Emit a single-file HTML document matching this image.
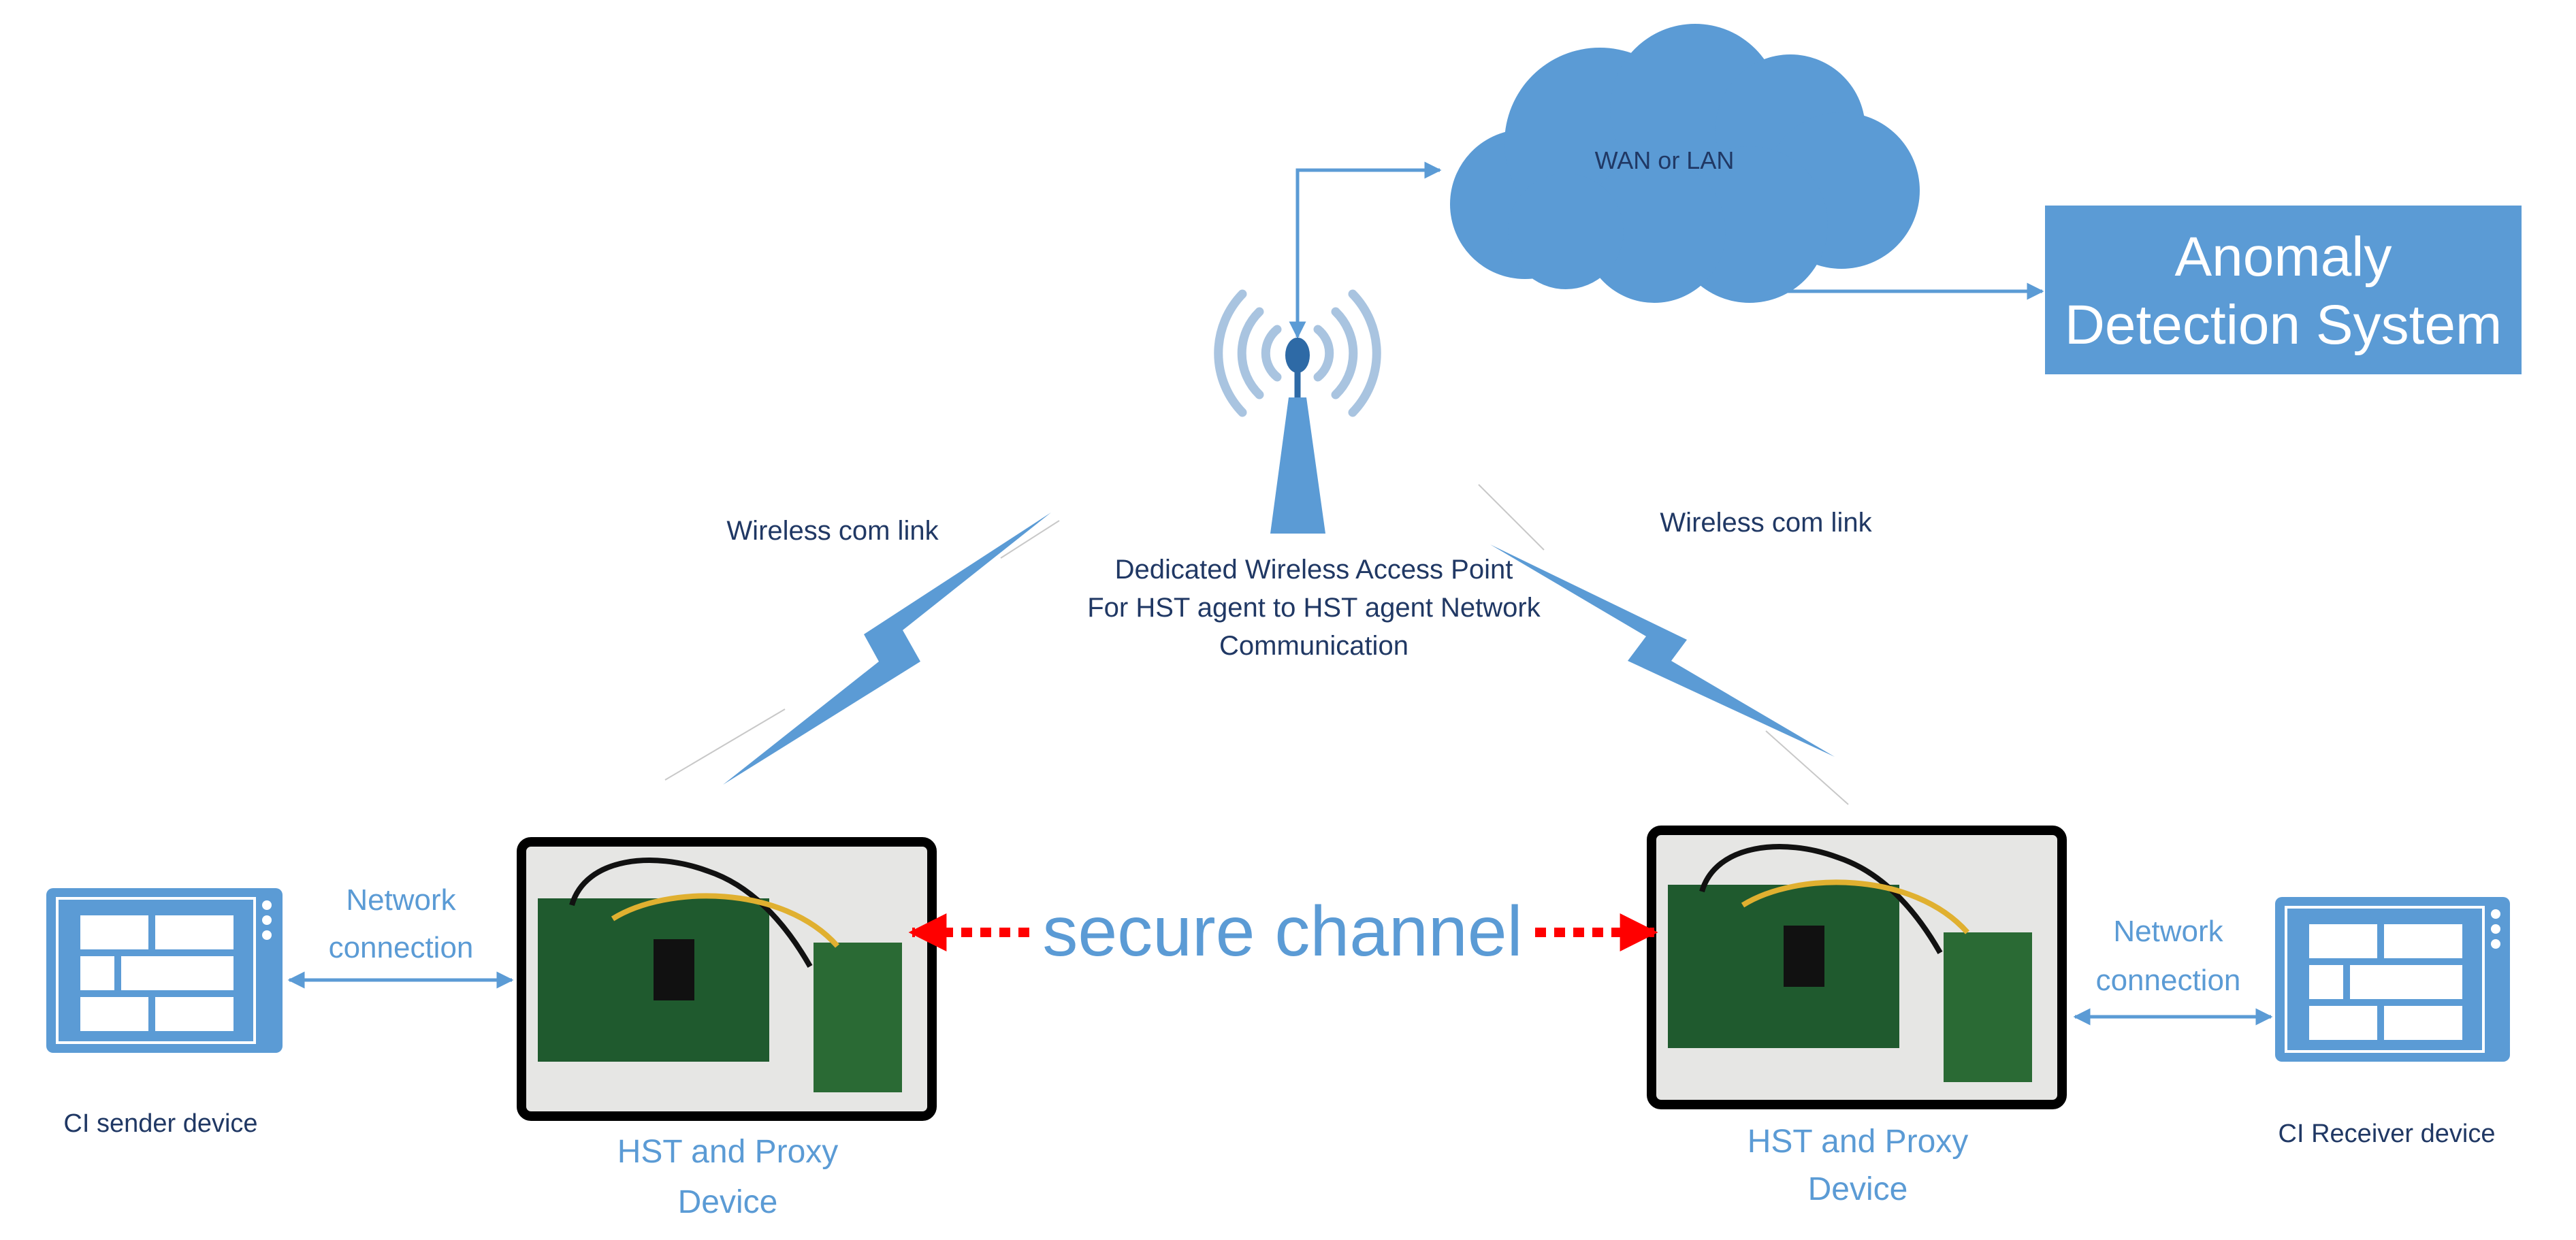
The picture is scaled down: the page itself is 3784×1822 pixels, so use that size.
<!DOCTYPE html>
<html><head><meta charset="utf-8"><style>html,body{margin:0;padding:0;background:#fff}svg{display:block}</style></head><body>
<svg width="3784" height="1822" viewBox="0 0 3784 1822" xmlns="http://www.w3.org/2000/svg" font-family="Liberation Sans, sans-serif">
<defs>
<marker id="ab" viewBox="0 0 10 10" refX="9" refY="5" markerWidth="5" markerHeight="5" orient="auto-start-reverse"><path d="M0,0 L10,5 L0,10 z" fill="#5b9bd5"/></marker>
<marker id="ar" viewBox="0 0 10 10" refX="9" refY="5" markerWidth="4" markerHeight="5" orient="auto-start-reverse"><path d="M0,0 L10,5 L0,10 z" fill="#ff0000"/></marker>
</defs>
<g fill="#5b9bd5">
<circle cx="2240" cy="300" r="110"/><circle cx="2350" cy="210" r="140"/><circle cx="2490" cy="160" r="125"/>
<circle cx="2630" cy="190" r="110"/><circle cx="2705" cy="280" r="115"/><circle cx="2570" cy="330" r="115"/>
<circle cx="2430" cy="340" r="105"/><circle cx="2300" cy="340" r="85"/>
</g>
<text x="2445" y="248" font-size="36" fill="#203864" text-anchor="middle">WAN or LAN</text>
<rect x="3004" y="302" width="700" height="248" fill="#5b9bd5"/>
<text x="3354" y="405" font-size="82" fill="#fff" text-anchor="middle">Anomaly</text>
<text x="3354" y="505" font-size="82" fill="#fff" text-anchor="middle">Detection System</text>
<line x1="2530" y1="428" x2="3000" y2="428" stroke="#5b9bd5" stroke-width="5" marker-end="url(#ab)"/>
<polyline points="1906,495 1906,250 2115,250" fill="none" stroke="#5b9bd5" stroke-width="5" marker-start="url(#ab)" marker-end="url(#ab)"/>
<g fill="none" stroke="#a9c4e0" stroke-width="13" stroke-linecap="round">
<path d="M1876,484 A45,45 0 0 0 1876,554"/><path d="M1936,484 A45,45 0 0 1 1936,554"/>
<path d="M1850,458 A85,85 0 0 0 1850,580"/><path d="M1962,458 A85,85 0 0 1 1962,580"/>
<path d="M1825,432 A125,125 0 0 0 1825,606"/><path d="M1987,432 A125,125 0 0 1 1987,606"/>
</g>
<line x1="1906" y1="520" x2="1906" y2="585" stroke="#2e6aa6" stroke-width="9"/>
<ellipse cx="1906" cy="522" rx="18" ry="26" fill="#2e6aa6"/>
<polygon points="1893,584 1919,584 1947,784 1866,784" fill="#5b9bd5"/>
<text font-size="40" fill="#203864" text-anchor="middle"><tspan x="1930" y="850">Dedicated Wireless Access Point</tspan><tspan x="1930" y="906">For HST agent to HST agent Network</tspan><tspan x="1930" y="962">Communication</tspan></text>
<text x="1223" y="793" font-size="40" fill="#203864" text-anchor="middle">Wireless com link</text>
<text x="2594" y="781" font-size="40" fill="#203864" text-anchor="middle">Wireless com link</text>
<polygon points="1544,753 1326,926 1352,972 1062,1153 1291,972 1269,932" fill="#5b9bd5"/>
<polygon points="2189,800 2478,940 2455,971 2695,1112 2391,971 2418,935" fill="#5b9bd5"/>
<g stroke="#c8c8c8" stroke-width="2">
<line x1="977" y1="1146" x2="1153" y2="1042"/><line x1="1470" y1="820" x2="1556" y2="765"/>
<line x1="2172" y1="712" x2="2268" y2="808"/><line x1="2594" y1="1074" x2="2715" y2="1182"/>
</g>
<g>
<rect x="766" y="1237" width="603" height="403" rx="14" fill="#e6e6e4" stroke="#000" stroke-width="14"/>
<rect x="790" y="1320" width="340" height="240" fill="#1f5a2e"/>
<rect x="1195" y="1385" width="130" height="220" fill="#2a6a34"/>
<rect x="960" y="1380" width="60" height="90" fill="#111"/>
<path d="M840,1330 C860,1260 960,1250 1040,1280 C1100,1300 1150,1350 1190,1420" fill="none" stroke="#111" stroke-width="8"/>
<path d="M900,1350 C980,1300 1150,1300 1230,1390" fill="none" stroke="#e0b030" stroke-width="8"/>
<rect x="2426" y="1220" width="603" height="403" rx="14" fill="#e6e6e4" stroke="#000" stroke-width="14"/>
<rect x="2450" y="1300" width="340" height="240" fill="#1f5a2e"/>
<rect x="2855" y="1370" width="130" height="220" fill="#2a6a34"/>
<rect x="2620" y="1360" width="60" height="90" fill="#111"/>
<path d="M2500,1310 C2520,1240 2620,1230 2700,1260 C2760,1280 2810,1330 2850,1400" fill="none" stroke="#111" stroke-width="8"/>
<path d="M2560,1330 C2640,1280 2810,1280 2890,1370" fill="none" stroke="#e0b030" stroke-width="8"/>
</g>
<line x1="1512" y1="1370" x2="1340" y2="1370" stroke="#ff0000" stroke-width="14" stroke-dasharray="16,12" marker-end="url(#ar)"/>
<line x1="2255" y1="1370" x2="2430" y2="1370" stroke="#ff0000" stroke-width="14" stroke-dasharray="16,12" marker-end="url(#ar)"/>
<text x="1884" y="1404" font-size="104" fill="#5b9bd5" text-anchor="middle">secure channel</text>
<g>
<rect x="68" y="1305" width="347" height="242" rx="10" fill="#5b9bd5"/>
<rect x="84" y="1320" width="290" height="212" fill="none" stroke="#fff" stroke-width="4"/>
<g fill="#fff"><rect x="118" y="1345" width="100" height="50"/><rect x="228" y="1345" width="115" height="50"/>
<rect x="118" y="1405" width="50" height="50"/><rect x="178" y="1405" width="165" height="50"/>
<rect x="118" y="1465" width="100" height="50"/><rect x="228" y="1465" width="115" height="50"/>
<circle cx="392" cy="1330" r="7"/><circle cx="392" cy="1352" r="7"/><circle cx="392" cy="1374" r="7"/></g>
<rect x="3342" y="1318" width="345" height="242" rx="10" fill="#5b9bd5"/>
<rect x="3358" y="1333" width="290" height="212" fill="none" stroke="#fff" stroke-width="4"/>
<g fill="#fff"><rect x="3392" y="1358" width="100" height="50"/><rect x="3502" y="1358" width="115" height="50"/>
<rect x="3392" y="1418" width="50" height="50"/><rect x="3452" y="1418" width="165" height="50"/>
<rect x="3392" y="1478" width="100" height="50"/><rect x="3502" y="1478" width="115" height="50"/>
<circle cx="3666" cy="1343" r="7"/><circle cx="3666" cy="1365" r="7"/><circle cx="3666" cy="1387" r="7"/></g>
</g>
<line x1="425" y1="1440" x2="752" y2="1440" stroke="#5b9bd5" stroke-width="5" marker-start="url(#ab)" marker-end="url(#ab)"/>
<line x1="3048" y1="1494" x2="3336" y2="1494" stroke="#5b9bd5" stroke-width="5" marker-start="url(#ab)" marker-end="url(#ab)"/>
<text font-size="44" fill="#5b9bd5" text-anchor="middle"><tspan x="589" y="1337">Network</tspan><tspan x="589" y="1407">connection</tspan></text>
<text font-size="44" fill="#5b9bd5" text-anchor="middle"><tspan x="3185" y="1383">Network</tspan><tspan x="3185" y="1455">connection</tspan></text>
<text x="236" y="1663" font-size="38" fill="#203864" text-anchor="middle">CI sender device</text>
<text x="3506" y="1678" font-size="38" fill="#203864" text-anchor="middle">CI Receiver device</text>
<text font-size="48" fill="#5b9bd5" text-anchor="middle"><tspan x="1069" y="1708">HST and Proxy</tspan><tspan x="1069" y="1782">Device</tspan></text>
<text font-size="48" fill="#5b9bd5" text-anchor="middle"><tspan x="2729" y="1693">HST and Proxy</tspan><tspan x="2729" y="1763">Device</tspan></text>
</svg>
</body></html>
